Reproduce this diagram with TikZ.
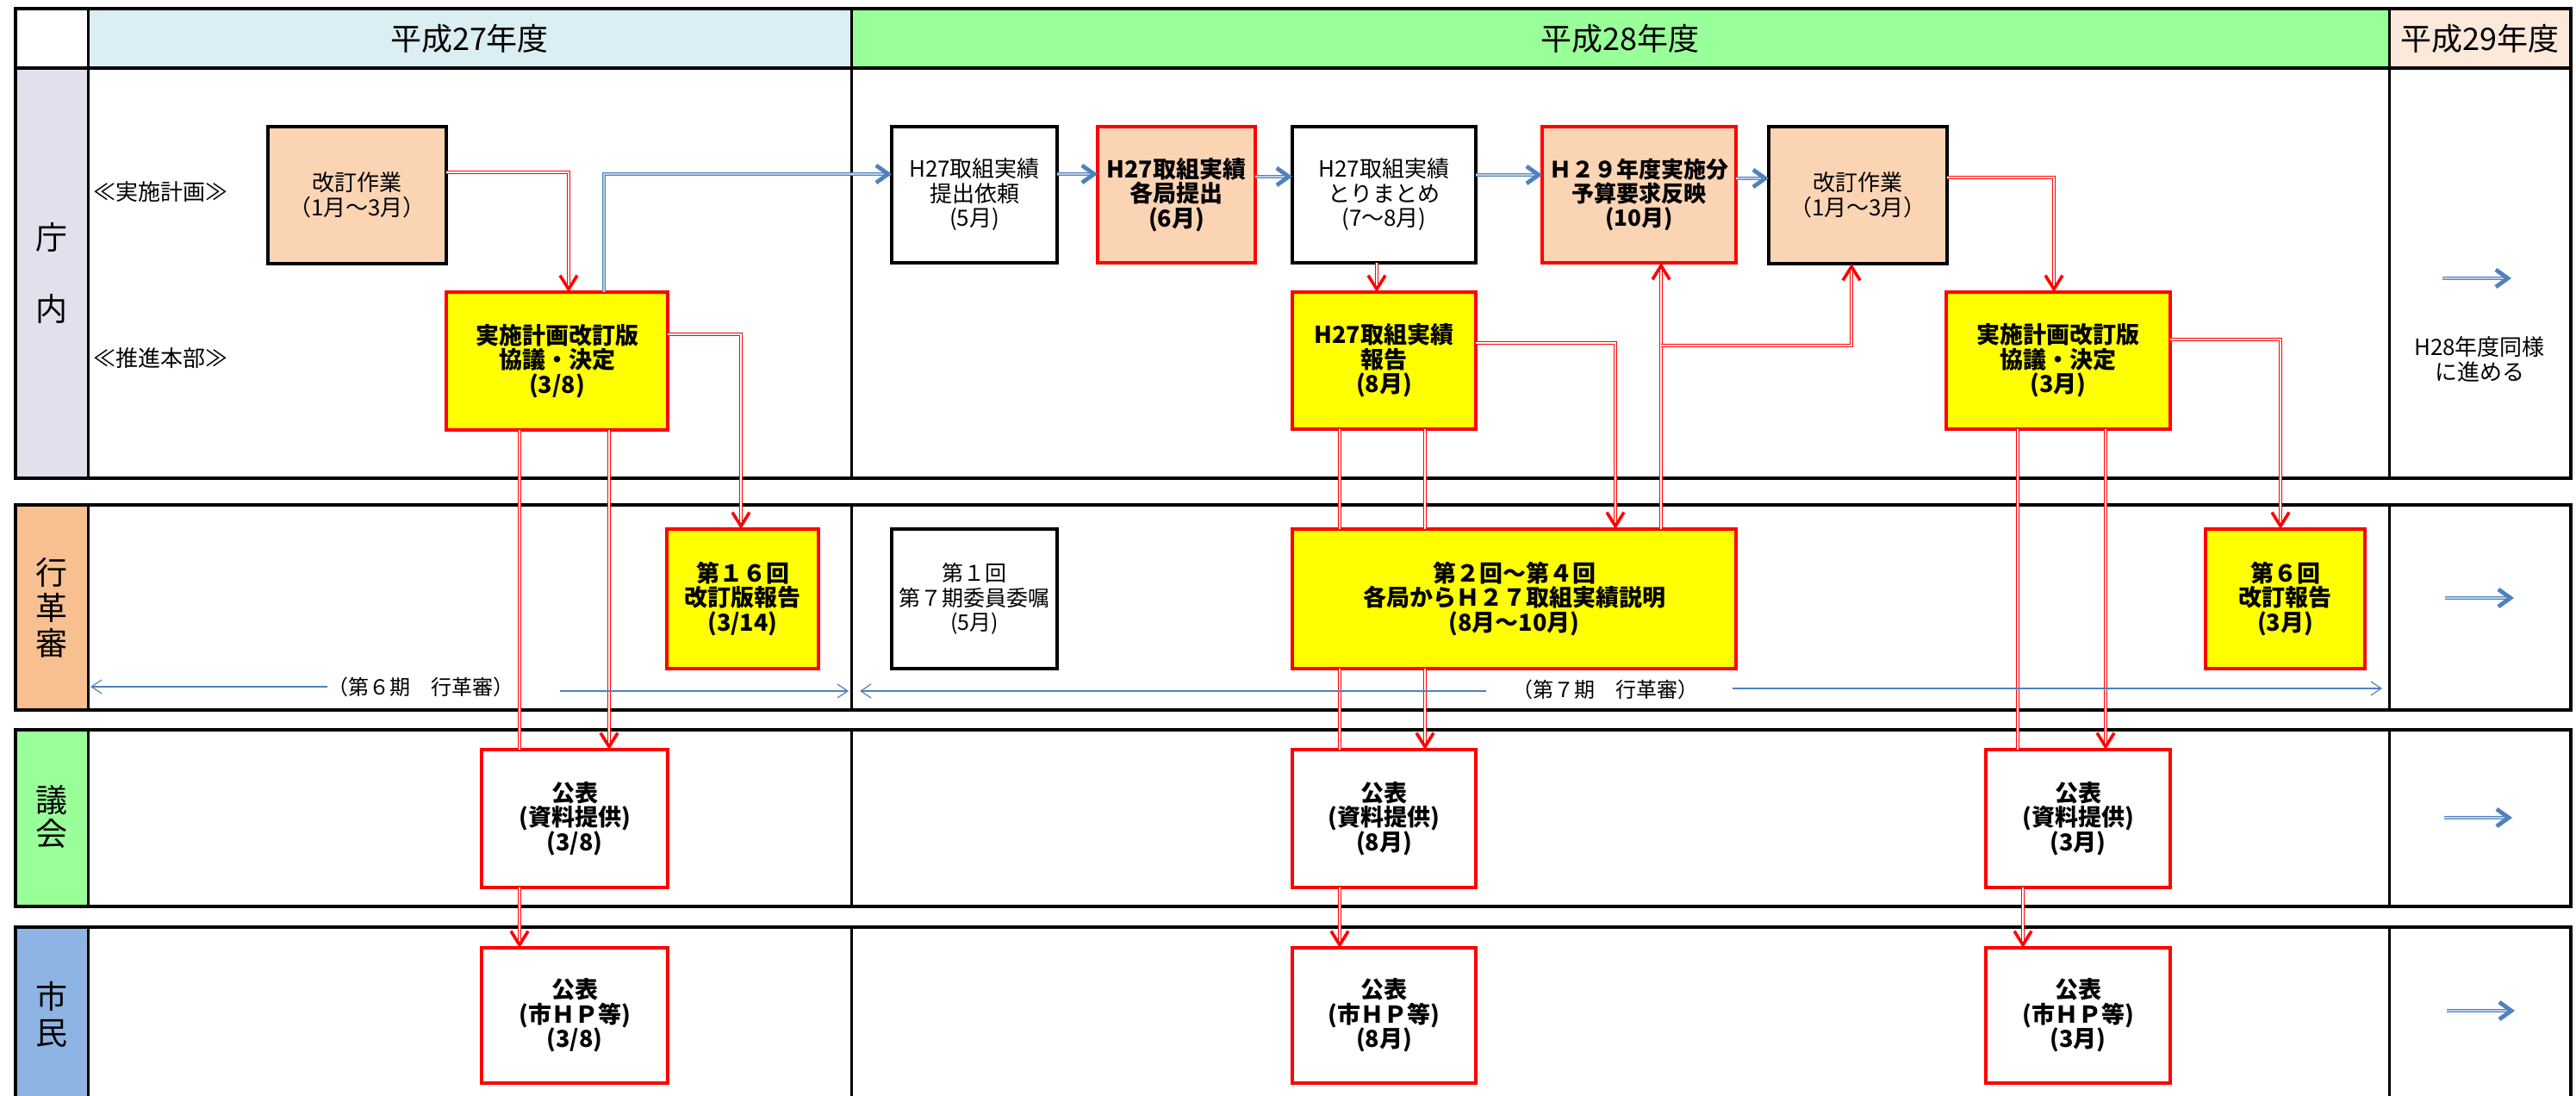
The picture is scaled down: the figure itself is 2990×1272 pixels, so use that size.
\documentclass[tikz,border=0pt]{standalone}
\usepackage{fontspec}
\setmainfont{Noto Sans CJK JP}
\usetikzlibrary{arrows.meta,calc}
\definecolor{peach}{HTML}{FBD4B4}
\definecolor{hdrA}{HTML}{DAEEF3}
\definecolor{hdrB}{HTML}{99FF99}
\definecolor{hdrC}{HTML}{FDE9D9}
\definecolor{laneA}{HTML}{E4DFEC}
\definecolor{laneB}{HTML}{F8C090}
\definecolor{laneC}{HTML}{99FF99}
\definecolor{laneD}{HTML}{8EB4E3}
\definecolor{arrblue}{HTML}{4F81BD}
\definecolor{arrbluelt}{HTML}{B9CDE5}
\definecolor{myred}{HTML}{FF0000}
\definecolor{myyellow}{HTML}{FFFF00}
\newcommand\mkbox[7]{\node[#2, minimum width={(#5-#3)*0.5pt}, minimum height={(#6-#4)*0.5pt}] (#1) at ({(#3+#5)/2},{(#4+#6)/2}) {#7};}
\begin{document}
\begin{tikzpicture}[x=0.5pt,y=-0.5pt,
  every node/.style={inner sep=0pt, outer sep=0pt},
  txt/.style={align=center, font=\fontsize{13}{14.2}\selectfont},
  btxt/.style={align=center, font=\fontsize{13.5}{14.2}\selectfont\bfseries},
  pbox/.style={txt, fill=peach, draw=black, line width=2pt},
  prbox/.style={btxt, fill=peach, draw=myred, line width=1.8pt},
  ybox/.style={btxt, fill=myyellow, draw=myred, line width=1.8pt},
  wbox/.style={txt, fill=white, draw=black, line width=1.6pt},
  wbbox/.style={txt, fill=white, draw=black, line width=2.2pt},
  wrbox/.style={btxt, fill=white, draw=myred, line width=1.6pt},
  frame/.style={draw=black, line width=1.8pt},
  vline/.style={draw=black, line width=1.5pt},
  hdr/.style={font=\fontsize{18}{20}\selectfont},
  lanelbl/.style={align=center},
  rl/.style={draw=myred, line width=0.7pt, double=white, double distance=0.9pt},
  rtip/.style={-{Straight Barb[length=8pt,width=10pt,line width=1.8pt]}},
  bl/.style={draw=arrblue, line width=0.8pt, double=arrbluelt, double distance=0.7pt},
  btip/.style={-{Straight Barb[length=7pt,width=10pt,line width=2.4pt]}},
  dl/.style={draw=arrblue, line width=0.6pt},
  dtip/.style={-{Straight Barb[length=6pt,width=8pt,line width=0.6pt]}}
]
\useasboundingbox (0,0) rectangle (2990,1272);
\clip (0,0) rectangle (2990,1272);
% ---------- fills ----------
\fill[hdrA] (102,10) rectangle (988,79);
\fill[hdrB] (988,10) rectangle (2773,79);
\fill[hdrC] (2773,10) rectangle (2984,79);
\fill[laneA] (18,79) rectangle (102,555);
\fill[laneB] (18,586) rectangle (102,824);
\fill[laneC] (18,847) rectangle (102,1052);
\fill[laneD] (18,1076) rectangle (102,1300);
% ---------- frames ----------
\draw[frame] (18,10) rectangle (2984,555);
\draw[frame] (18,79) -- (2984,79);
\draw[frame] (18,586) rectangle (2984,824);
\draw[frame] (18,847) rectangle (2984,1052);
\draw[frame] (18,1076) rectangle (2984,1300);
\foreach \ya/\yb in {10/555, 586/824, 847/1052, 1076/1300}{
  \draw[vline] (102,\ya) -- (102,\yb);
  \draw[vline] (988,\ya) -- (988,\yb);
  \draw[vline] (2773,\ya) -- (2773,\yb);
}
% ---------- headers & lane labels ----------
\node[hdr] (h27) at (545,45) {平成27年度};
\node[hdr] (h28) at (1880,45) {平成28年度};
\node[hdr] (h29) at (2878,45) {平成29年度};
\node[lanelbl, font=\fontsize{18.5}{41.5}\selectfont] (L1) at (60,317) {庁\\内};
\node[lanelbl, font=\fontsize{18.5}{20.5}\selectfont] (L2) at (60,705) {行\\革\\審};
\node[lanelbl, font=\fontsize{18.5}{19.5}\selectfont] (L3) at (60,948) {議\\会};
\node[lanelbl, font=\fontsize{18.5}{21}\selectfont] (L4) at (60,1177) {市\\民};
\node[txt] (lab1) at (186,223) {≪実施計画≫};
\node[txt] (lab2) at (186,416) {≪推進本部≫};
% ---------- boxes: 庁内 ----------
\mkbox{b1}{pbox}{311}{147}{518}{306}{改訂作業\\（1月～3月）}
\mkbox{b2}{ybox}{518}{339}{775}{499}{実施計画改訂版\\協議・決定\\(3/8)}
\mkbox{b3}{wbox}{1035}{147}{1227}{305}{H27取組実績\\提出依頼\\(5月)}
\mkbox{b4}{prbox}{1274}{147}{1457}{305}{H27取組実績\\各局提出\\(6月)}
\mkbox{b5}{wbbox}{1500}{147}{1713}{305}{H27取組実績\\とりまとめ\\(7～8月)}
\mkbox{b6}{prbox, font=\fontsize{13}{14.2}\selectfont\bfseries}{1790}{147}{2015}{305}{Ｈ２９年度実施分\\予算要求反映\\(10月)}
\mkbox{b7}{pbox}{2053}{147}{2260}{306}{改訂作業\\（1月～3月）}
\mkbox{b8}{ybox}{1500}{339}{1713}{498}{H27取組実績\\報告\\(8月)}
\mkbox{b9}{ybox}{2259}{339}{2519}{498}{実施計画改訂版\\協議・決定\\(3月)}
\node[txt] (same) at (2878,417) {H28年度同様\\に進める};
% ---------- boxes: 行革審 ----------
\mkbox{g1}{ybox}{774}{614}{950}{776}{第１６回\\改訂版報告\\(3/14)}
\mkbox{g2}{wbox, font=\fontsize{12.5}{14.2}\selectfont}{1035}{614}{1227}{776}{第１回\\第７期委員委嘱\\(5月)}
\mkbox{g3}{ybox}{1500}{614}{2015}{776}{第２回～第４回\\各局からＨ２７取組実績説明\\(8月～10月)}
\mkbox{g4}{ybox}{2560}{614}{2745}{776}{第６回\\改訂報告\\(3月)}
\node[font=\fontsize{12}{14}\selectfont] (t6) at (488,797) {（第６期　行革審）};
\node[font=\fontsize{12}{14}\selectfont] (t7) at (1863,800) {（第７期　行革審）};
% ---------- boxes: 議会 / 市民 ----------
\mkbox{k1}{wrbox}{559}{870}{775}{1030}{公表\\(資料提供)\\(3/8)}
\mkbox{k2}{wrbox}{1500}{870}{1713}{1030}{公表\\(資料提供)\\(8月)}
\mkbox{k3}{wrbox}{2305}{870}{2519}{1030}{公表\\(資料提供)\\(3月)}
\mkbox{s1}{wrbox}{559}{1100}{775}{1257}{公表\\(市ＨＰ等)\\(3/8)}
\mkbox{s2}{wrbox}{1500}{1100}{1713}{1257}{公表\\(市ＨＰ等)\\(8月)}
\mkbox{s3}{wrbox}{2305}{1100}{2519}{1257}{公表\\(市ＨＰ等)\\(3月)}
% ---------- red connectors ----------
\draw[rl,rtip] (b1.east |- 0,200) -| (b2.north -| 660,0);
\draw[rl] (b2.south -| 603,0) -- (k1.north -| 603,0);
\draw[rl,rtip] (b2.south -| 707,0) -- (k1.north -| 707,0);
\draw[rl,rtip] (k1.south -| 603,0) -- (s1.north -| 603,0);
\draw[rl,rtip] (b2.east |- 0,388) -| (g1.north -| 860,0);
\draw[rl,rtip] (b5.south -| 1598,0) -- (b8.north -| 1598,0);
\draw[rl] (b8.south -| 1555,0) -- (g3.north -| 1555,0);
\draw[rl] (g3.south -| 1555,0) -- (k2.north -| 1555,0);
\draw[rl] (b8.south -| 1654,0) -- (g3.north -| 1654,0);
\draw[rl,rtip] (g3.south -| 1654,0) -- (k2.north -| 1654,0);
\draw[rl,rtip] (k2.south -| 1555,0) -- (s2.north -| 1555,0);
\draw[rl,rtip] (b8.east |- 0,398) -| (g3.north -| 1875,0);
\draw[rl,rtip] (g3.north -| 1928,0) -- (b6.south -| 1928,0);
\coordinate (jn) at (1928,401);
\draw[rl,rtip] (jn) -| (b7.south -| 2149,0);
\draw[rl,rtip] (b7.east |- 0,206) -| (b9.north -| 2384,0);
\draw[rl] (b9.south -| 2342,0) -- (k3.north -| 2342,0);
\draw[rl,rtip] (b9.south -| 2444,0) -- (k3.north -| 2444,0);
\draw[rl,rtip] (k3.south -| 2348,0) -- (s3.north -| 2348,0);
\draw[rl,rtip] (b9.east |- 0,394) -| (g4.north -| 2647,0);
% ---------- blue connectors ----------
\draw[bl,btip] (b2.north -| 701,0) |- (b3.west |- 0,202);
\draw[bl,btip] (b3.east |- 0,202) -- (b4.west |- 0,202);
\draw[bl,btip] (b4.east |- 0,205) -- (b5.west |- 0,205);
\draw[bl,btip] (b5.east |- 0,203) -- (b6.west |- 0,203);
\draw[bl,btip] (b6.east |- 0,207) -- (b7.west |- 0,207);
\coordinate (n1a) at (2835,323); \coordinate (n1b) at (2915,323);
\coordinate (n2a) at (2838,694); \coordinate (n2b) at (2918,694);
\coordinate (n3a) at (2837,949); \coordinate (n3b) at (2916,949);
\coordinate (n4a) at (2840,1173); \coordinate (n4b) at (2919,1173);
\draw[bl,btip] (n1a) -- (n1b);
\draw[bl,btip] (n2a) -- (n2b);
\draw[bl,btip] (n3a) -- (n3b);
\draw[bl,btip] (n4a) -- (n4b);
% ---------- period arrows ----------
\coordinate (p6L) at (105,797);
\coordinate (p6a) at (650,802); \coordinate (p6R) at (985,802);
\coordinate (p7a) at (1725,802); \coordinate (p7L) at (998,802);
\coordinate (p7b) at (2011,799); \coordinate (p7R) at (2765,799);
\draw[dl,dtip] (t6.west) -- (p6L);
\draw[dl,dtip] (p6a) -- (p6R);
\draw[dl,dtip] (p7a) -- (p7L);
\draw[dl,dtip] (p7b) -- (p7R);
\end{tikzpicture}
\end{document}
